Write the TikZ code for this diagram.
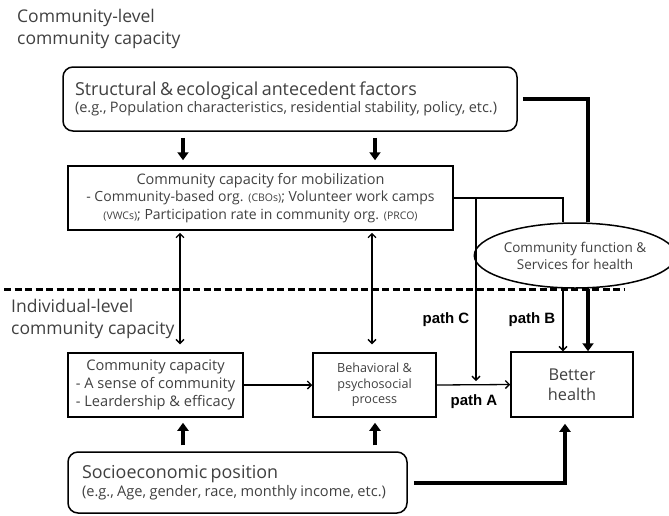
\documentclass[tikz,border=0pt]{standalone}
\usepackage{fontspec}
\setmainfont{Open Sans}
\newfontfamily\pathfont{Liberation Sans}
\usetikzlibrary{arrows.meta,shapes.geometric,calc}
\definecolor{txt}{RGB}{64,64,64}
\tikzset{
  rbox/.style={draw, line width=1.5pt, rounded corners=10pt, inner ysep=0pt, text=txt, align=left},
  sbox/.style={draw, line width=1.5pt, inner sep=0pt, text=txt, align=center},
  title/.style={anchor=north west, inner sep=0pt, text=txt, align=left, font=\fontsize{17.5}{21.5}\selectfont},
  pathlbl/.style={inner sep=0pt, font=\pathfont\bfseries\fontsize{15}{17}\selectfont},
  thinline/.style={line width=1.3pt},
  thinarrow/.style={line width=1.3pt, -{Straight Barb[length=4pt,width=8pt]}},
  dblarrow/.style={line width=1.3pt, {Straight Barb[length=4pt,width=8pt]}-{Straight Barb[length=4pt,width=8pt]}},
  thickline/.style={line width=4pt},
  thickarrow/.style={line width=4pt, -{Triangle[length=8pt,width=11pt]}},
  dashline/.style={line width=3pt, dash pattern=on 7pt off 3.5pt}
}
\newcommand{\abbr}[1]{{\fontsize{10.5}{10}\selectfont #1}}
\begin{document}
\begin{tikzpicture}[x=1pt,y=-1pt]
\useasboundingbox (0,0) rectangle (669,515);

% level titles
\node[title] (t1) at (17,9) {Community-level\\community capacity};
\node[title] (t2) at (11,299) {Individual-level\\community capacity};

% dashed divider
\coordinate (dl) at (4,289);
\coordinate (dr) at (625,289);
\draw[dashline] (dl) -- (dr);

% boxes
\node[rbox, minimum width=454pt, minimum height=64pt, inner xsep=12pt, text width=430pt] (top) at (290,99)
  {{\fontsize{17.9}{19}\selectfont Structural \& ecological antecedent factors}\\[1pt]
   {\fontsize{14.5}{17}\selectfont (e.g., Population characteristics, residential stability, policy, etc.)}};

\node[sbox, minimum width=385pt, minimum height=64pt, font=\fontsize{14.5}{17.5}\selectfont] (mob) at (260.5,198)
  {Community capacity for mobilization\\
   {\fontsize{14}{17.5}\selectfont - Community-based org. \abbr{(CBOs)}; Volunteer work camps}\\
   {\fontsize{14}{17.5}\selectfont \abbr{(VWCs)}; Participation rate in community org. \abbr{(PRCO)}}};

\node[sbox, minimum width=175pt, minimum height=64pt, font=\fontsize{14.6}{18}\selectfont] (cc) at (155.5,385)
  {Community capacity\\- A sense of community\\- Leardership \& efficacy};

\node[sbox, minimum width=123pt, minimum height=64pt, font=\fontsize{12.6}{15.5}\selectfont] (beh) at (374.5,385)
  {Behavioral \&\\psychosocial\\process};

\node[sbox, minimum width=122pt, minimum height=65pt, font=\fontsize{16.3}{20}\selectfont] (better) at (572,384.5)
  {Better\\health};

\node[rbox, minimum width=339pt, minimum height=61pt, inner xsep=14pt, text width=311pt] (socio) at (237.5,482.5)
  {{\fontsize{17.9}{19}\selectfont Socioeconomic position}\\[1pt]
   {\fontsize{14.6}{17}\selectfont (e.g., Age, gender, race, monthly income, etc.)}};

\node[ellipse, draw, line width=1.5pt, fill=white, minimum width=176pt, minimum height=65pt, inner sep=0pt,
      align=center, text=txt, font=\fontsize{13.5}{17}\selectfont] (ell) at (575,255.5)
  {Community function \&\\Services for health};

% x positions of vertical connectors
\coordinate (xa) at (183,0);
\coordinate (xb) at (375,0);
\coordinate (xc) at (180,0);
\coordinate (xd) at (372,0);
\coordinate (xp) at (476,0);
\coordinate (xq) at (563,0);
\coordinate (xr) at (588,0);
\coordinate (xs) at (565,0);

% structural -> mobilization
\draw[thickarrow, shorten <=6pt, shorten >=5pt] (top.south -| xa) -- (mob.north -| xa);
\draw[thickarrow, shorten <=6pt, shorten >=5pt] (top.south -| xb) -- (mob.north -| xb);

% mobilization <-> individual level
\draw[dblarrow, shorten <=2pt, shorten >=8pt] (mob.south -| xc) -- (cc.north -| xc);
\draw[dblarrow, shorten <=2pt, shorten >=8pt] (mob.south -| xd) -- (beh.north -| xd);

% socioeconomic -> individual level
\draw[thickarrow, shorten <=6pt, shorten >=5pt] (socio.north -| xa) -- (cc.south -| xa);
\draw[thickarrow, shorten <=6pt, shorten >=5pt] (socio.north -| xb) -- (beh.south -| xb);

% horizontal chain
\draw[thinarrow] (cc.east) -- (beh.west);
\draw[thinarrow] (beh.east) -- (better.west);

% mobilization -> community function -> better health
\draw[thinline] (mob.east) -| (ell.north -| xq);
\draw[thinarrow] (ell.south -| xq) -- (better.north -| xq);

% path C
\draw[thinarrow, shorten >=4pt] (mob.east -| xp) -- (beh.east -| xp);

% structural -> better health (thick)
\draw[thickline, shorten <=5pt] (top.east) -| (ell.north -| xr);
\draw[thickarrow] (ell.south -| xr) -- (better.north -| xr);

% socioeconomic -> better health
\draw[thickarrow, shorten <=6pt, shorten >=6pt] (socio.east) -| (better.south -| xs);

% path labels
\node[pathlbl] (pC) at (446,320) {path C};
\node[pathlbl] (pB) at (532,320) {path B};
\node[pathlbl] (pA) at (474,402) {path A};
\end{tikzpicture}
\end{document}
